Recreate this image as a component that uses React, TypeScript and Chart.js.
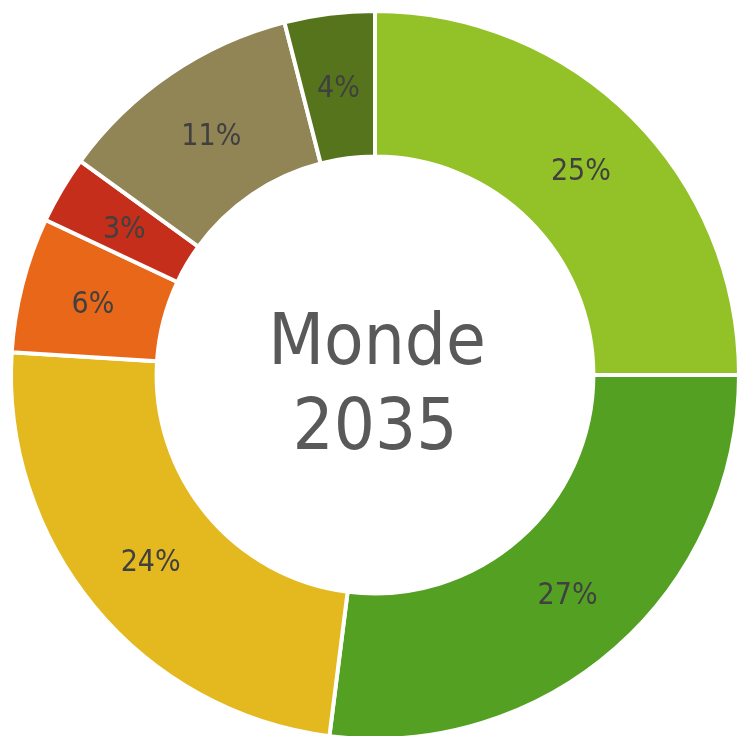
import React, { useEffect, useRef } from "react";
import { Chart, registerables } from "chart.js";

Chart.register(...registerables);

const categories = ["A", "B", "C", "D", "E", "F", "G"];
const values = [25, 27, 24, 6, 3, 11, 4];
const colors = ["#93C128", "#53A023", "#E4B81F", "#E86719", "#C42E1A", "#918556", "#55741C"];
const centerLines = ["Monde", "2035"];

const FONT = "'DejaVu Sans Condensed', 'DejaVu Sans', sans-serif";

const labelPlugin = {
  id: "sliceLabels",
  afterDatasetsDraw(chart: any) {
    const ctx = chart.ctx;
    const meta = chart.getDatasetMeta(0);
    ctx.save();
    ctx.font = `30px ${FONT}`;
    ctx.fillStyle = "#404040";
    ctx.textAlign = "center";
    ctx.textBaseline = "middle";
    meta.data.forEach((arc: any, i: number) => {
      const p = arc.tooltipPosition();
      ctx.fillText(values[i] + "%", p.x, p.y + 3);
    });
    const first = meta.data[0];
    const cx = first.x;
    const cy = first.y;
    ctx.font = `72px ${FONT}`;
    ctx.fillStyle = "#595959";
    ctx.textBaseline = "alphabetic";
    ctx.fillText(centerLines[0], cx + 2, cy - 11);
    ctx.fillText(centerLines[1], cx, cy + 74);
    ctx.restore();
  },
};

export default function App() {
  const ref = useRef<HTMLCanvasElement>(null);
  useEffect(() => {
    if (!ref.current) return;
    const chart = new Chart(ref.current, {
      type: "doughnut",
      data: {
        labels: categories,
        datasets: [
          {
            data: values,
            backgroundColor: colors,
            borderColor: "#ffffff",
            borderWidth: 4,
            hoverOffset: 0,
          },
        ],
      },
      options: {
        responsive: false,
        animation: false,
        cutout: "60%",
        layout: { padding: 9 },
        plugins: {
          legend: { display: false },
          tooltip: { enabled: false },
        },
      },
      plugins: [labelPlugin],
    });
    return () => chart.destroy();
  }, []);
  return (
    <div
      style={{
        position: "fixed",
        left: 0,
        top: 0,
        width: 739,
        height: 736,
        overflow: "hidden",
        background: "#fff",
      }}
    >
      <canvas ref={ref} width={750} height={750} style={{ display: "block" }} />
    </div>
  );
}
